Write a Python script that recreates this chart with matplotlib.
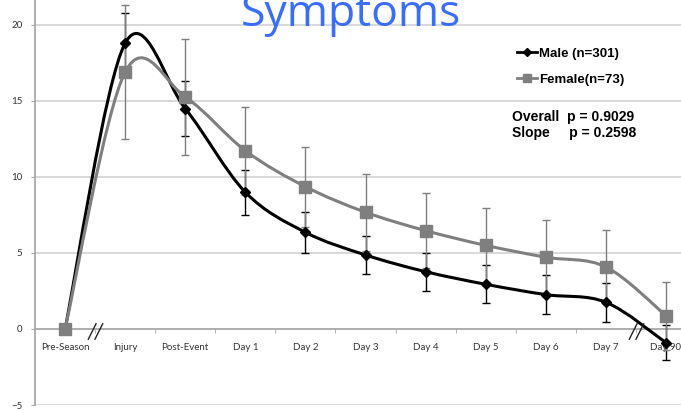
import numpy as np
import matplotlib
matplotlib.use("Agg")
import matplotlib.pyplot as plt
from matplotlib.path import Path
from matplotlib.patches import PathPatch
from matplotlib.lines import Line2D

categories = ["Pre-Season", "Injury", "Post-Event", "Day 1", "Day 2", "Day 3",
              "Day 4", "Day 5", "Day 6", "Day 7", "Day 90"]
male_mean = [0, 18.8, 14.5, 9.0, 6.36, 4.87, 3.77, 2.94, 2.26, 1.76, -0.9]
male_err = [0, 2.0, 1.8, 1.48, 1.35, 1.27, 1.25, 1.25, 1.27, 1.29, 1.17]
female_mean = [0, 16.9, 15.26, 11.73, 9.36, 7.68, 6.47, 5.5, 4.72, 4.08, 0.88]
female_err = [0, 4.4, 3.8, 2.9, 2.64, 2.52, 2.46, 2.44, 2.45, 2.43, 2.23]
yticks = [-5, 0, 5, 10, 15, 20]

MALE_C = "#000000"
FEMALE_C = "#7f7f7f"
GRID_C = "#d6d6d6"
AXIS_C = "#a8a8a8"


def smooth_path(x, y):
    # cubic bezier through every point (catmull-rom style tangents)
    x = np.asarray(x, float)
    y = np.asarray(y, float)
    n = len(x)
    verts = [(x[0], y[0])]
    codes = [Path.MOVETO]
    for i in range(n - 1):
        p0 = (x[i - 1], y[i - 1]) if i > 0 else (x[i], y[i])
        p3 = (x[i + 2], y[i + 2]) if i + 2 < n else (x[i + 1], y[i + 1])
        c1 = (x[i] + (x[i + 1] - p0[0]) / 6, y[i] + (y[i + 1] - p0[1]) / 6)
        c2 = (x[i + 1] - (p3[0] - x[i]) / 6, y[i + 1] - (p3[1] - y[i]) / 6)
        verts += [c1, c2, (x[i + 1], y[i + 1])]
        codes += [Path.CURVE4] * 3
    return Path(verts, codes)


W, H = 681, 411
fig = plt.figure(figsize=(W / 100, H / 100), dpi=100)
ax = fig.add_axes([35 / W, 6 / H, 661 / W, 405 / H])
ax.set_xlim(-0.5, len(categories) - 0.5)
ax.set_ylim(-5, 21.64)

xs = np.arange(len(categories))

series = [(male_mean, male_err, MALE_C, "D", 5, 4),
          (female_mean, female_err, FEMALE_C, "s", 8, 5)]
for mean, err, col, mk, ms, z in series:
    e = np.array(err)
    sel = e > 0
    ax.errorbar(xs[sel], np.array(mean)[sel], yerr=e[sel], fmt="none",
                ecolor=col, elinewidth=1.0, capsize=3, capthick=1.0, zorder=3)
    ax.add_patch(PathPatch(smooth_path(xs, mean), facecolor="none",
                           edgecolor=col, lw=2.2, zorder=z))
    ax.plot(xs, mean, ls="none", marker=mk, ms=ms, color=col, zorder=z + 2)

# axes styling
for s in ["top", "right"]:
    ax.spines[s].set_visible(False)
ax.spines["bottom"].set_position(("data", 0))
ax.spines["bottom"].set_color(AXIS_C)
ax.spines["bottom"].set_linewidth(1.3)
ax.spines["left"].set_color(AXIS_C)
ax.spines["left"].set_linewidth(1.3)

ax.set_yticks(yticks)
for v in yticks:
    if v != 0:
        ax.axhline(v, color=GRID_C, lw=1.3, zorder=0)
ax.tick_params(axis="y", length=3, color=AXIS_C, labelsize=7, pad=6,
               labelcolor="#333333")

ax.set_xticks(xs)
ax.set_xticklabels(categories)
ax.set_xticks(xs[:-1] + 0.5, minor=True)
ax.tick_params(axis="x", which="major", length=0, pad=10, labelsize=7,
               labelcolor="#333333")
ax.tick_params(axis="x", which="minor", length=3, color=AXIS_C)
for lbl in ax.get_xticklabels() + ax.get_yticklabels():
    lbl.set_family("Lato")

# axis break marks
brk = Path([(-0.45, -0.5), (0.05, 0.5), (-0.05, -0.5), (0.45, 0.5)],
           [Path.MOVETO, Path.LINETO, Path.MOVETO, Path.LINETO])
ax.plot([0.5, 9.5], [-0.13, -0.13], ls="none", marker=brk, ms=12,
        mec="#222222", mew=1.0, zorder=8, clip_on=False)

# legend
handles = [Line2D([], [], color=MALE_C, lw=2, marker="D", ms=4),
           Line2D([], [], color=FEMALE_C, lw=2, marker="s", ms=6)]
ax.legend(handles, ["Male (n=301)", "Female(n=73)"], frameon=False,
          loc="upper left", bbox_to_anchor=(505 / W, 1 - 36 / H),
          bbox_transform=fig.transFigure, handlelength=1.5, handletextpad=0.2,
          labelspacing=1.0, prop={"family": "Liberation Sans",
                                  "weight": "bold", "size": 9.5})

fig.text(512 / W, 1 - 125 / H, "Overall  p = 0.9029\nSlope     p = 0.2598",
         family="Liberation Sans", weight="bold", fontsize=10, va="center",
         ha="left", linespacing=1.25)

fig.text(351 / W, 1 - 26 / H, "Symptoms", family="Open Sans", fontsize=32,
         color="#3b6ef8", ha="center", va="baseline")

fig.savefig("out.png", dpi=100)
